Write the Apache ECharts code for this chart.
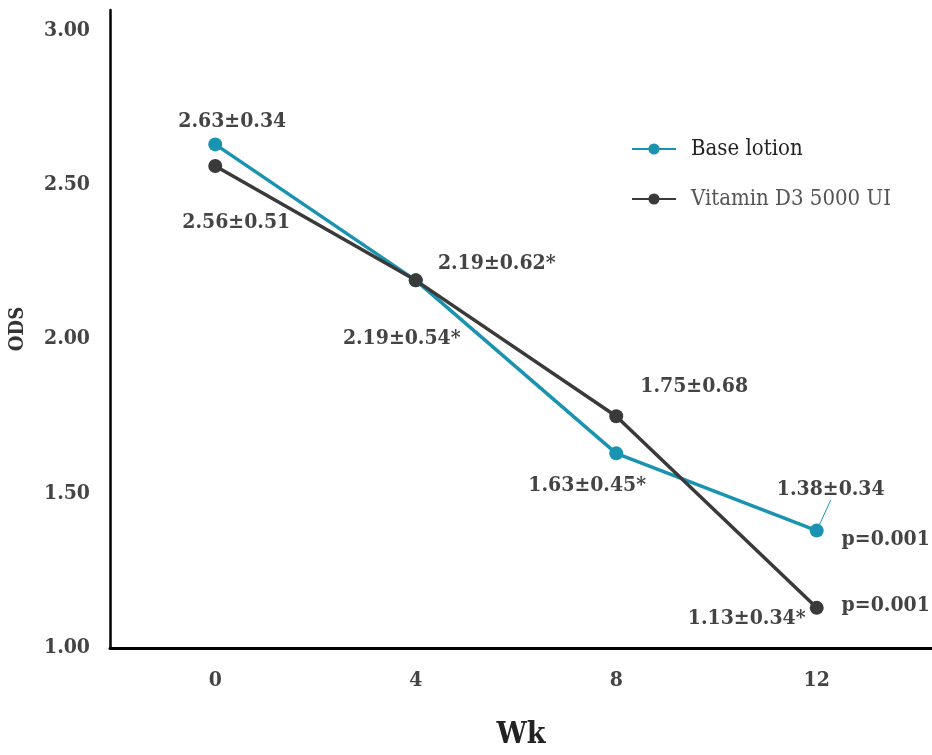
<!DOCTYPE html>
<html>
<head>
<meta charset="utf-8">
<script src="https://cdn.jsdelivr.net/npm/echarts@6/dist/echarts.min.js"></script>
<style>
  html, body { margin: 0; padding: 0; background: #fff; }
  #chart { width: 932px; height: 755px; }
</style>
</head>
<body>
<div id="chart"></div>
<script>
var weeks = [0, 4, 8, 12];
var baseMean = [2.63, 2.19, 1.63, 1.38];
var baseSd = [0.34, 0.54, 0.45, 0.34];
var baseStar = ['', '*', '*', ''];
var vitMean = [2.56, 2.19, 1.75, 1.13];
var vitSd = [0.51, 0.62, 0.68, 0.34];
var vitStar = ['', '*', '', '*'];
var pValues = ['p=0.001', 'p=0.001'];
var yTicks = [1, 1.5, 2, 2.5, 3];

// label offsets from each point, in px
var baseOffsets = [[17, -23], [-14, 58], [-29, 32], [14, -41]];
var vitOffsets = [[21, 57], [81, -17], [78, -30], [-70, 11]];

var FONT = "'DejaVu Serif Condensed', 'Liberation Serif', serif";
var TEAL = '#1a93b0';
var DARK = '#3a3a3a';
var TXT = '#444';

function buildData(means, sds, stars, offsets, leader) {
  return weeks.map(function (w, i) {
    var item = {
      value: [w, means[i]],
      label: {
        show: true,
        position: 'inside',
        offset: offsets[i],
        formatter: means[i].toFixed(2) + '±' + sds[i].toFixed(2) + stars[i]
      }
    };
    if (leader === i) {
      item.labelLine = { show: true, lineStyle: { color: TEAL, width: 1 } };
    }
    return item;
  });
}

var chart = echarts.init(document.getElementById('chart'));
chart.setOption({
  animation: false,
  textStyle: { fontFamily: FONT },
  grid: { left: 105, right: 0, top: 10, bottom: 100 },
  legend: {
    orient: 'vertical',
    left: 626,
    top: 133,
    itemWidth: 44,
    itemHeight: 14,
    itemGap: 28,
    textStyle: { fontFamily: FONT, fontSize: 22, padding: [0, 0, 0, 10] },
    data: [
      { name: 'Base lotion', textStyle: { color: '#222' } },
      { name: 'Vitamin D3 5000 UI', textStyle: { color: '#555' } }
    ]
  },
  xAxis: {
    type: 'value',
    min: -2.1,
    max: 14.3,
    name: 'Wk',
    nameLocation: 'middle',
    nameGap: 72,
    nameTextStyle: { fontFamily: FONT, fontSize: 30, fontWeight: 'bold', color: '#222' },
    splitLine: { show: false },
    axisTick: { show: false },
    axisLine: { show: true, onZero: false, lineStyle: { color: '#000', width: 3 } },
    axisLabel: {
      customValues: weeks,
      margin: 22,
      fontSize: 21,
      fontWeight: 'bold',
      color: TXT
    }
  },
  yAxis: {
    type: 'value',
    min: 1,
    max: 3.065,
    interval: 0.5,
    name: 'ODS',
    nameLocation: 'middle',
    nameGap: 82,
    nameTextStyle: { fontFamily: FONT, fontSize: 20, fontWeight: 'bold', color: '#333' },
    splitLine: { show: false },
    axisTick: { show: false },
    axisLine: { show: true, onZero: false, lineStyle: { color: '#000', width: 2.5 } },
    axisLabel: {
      customValues: yTicks,
      margin: 20,
      fontSize: 21,
      fontWeight: 'bold',
      color: TXT,
      formatter: function (v) { return v.toFixed(2); }
    }
  },
  series: [
    {
      name: 'Base lotion',
      type: 'line',
      symbol: 'circle',
      symbolSize: 14,
      color: TEAL,
      lineStyle: { width: 3.5, color: TEAL },
      label: { fontSize: 21, fontWeight: 'bold', color: TXT, fontFamily: FONT },
      data: buildData(baseMean, baseSd, baseStar, baseOffsets, 3),
      markPoint: {
        symbol: 'circle',
        symbolSize: 0,
        label: { show: true, position: 'inside', offset: [69, 9], fontSize: 21, fontWeight: 'bold', color: TXT, fontFamily: FONT, formatter: pValues[0] },
        data: [{ coord: [weeks[3], baseMean[3]] }]
      },
      z: 3
    },
    {
      name: 'Vitamin D3 5000 UI',
      type: 'line',
      symbol: 'circle',
      symbolSize: 14,
      color: DARK,
      lineStyle: { width: 3.5, color: DARK },
      label: { fontSize: 21, fontWeight: 'bold', color: TXT, fontFamily: FONT },
      data: buildData(vitMean, vitSd, vitStar, vitOffsets, -1),
      markPoint: {
        symbol: 'circle',
        symbolSize: 0,
        label: { show: true, position: 'inside', offset: [69, -2], fontSize: 21, fontWeight: 'bold', color: TXT, fontFamily: FONT, formatter: pValues[1] },
        data: [{ coord: [weeks[3], vitMean[3]] }]
      },
      z: 4
    }
  ]
});
</script>
</body>
</html>
